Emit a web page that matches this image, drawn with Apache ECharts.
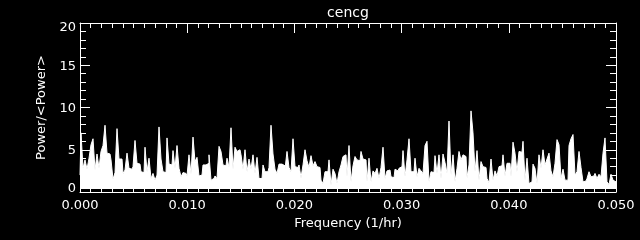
<!DOCTYPE html>
<html>
<head>
<meta charset="utf-8">
<script src="https://cdn.jsdelivr.net/npm/echarts@6/dist/echarts.min.js"></script>
<style>
  html, body { margin: 0; padding: 0; background: #000; }
  #chart { width: 640px; height: 240px; }
</style>
</head>
<body>
<div id="chart"></div>
<script>
// ---- data ----
const chartTitle = 'cencg';
const xAxisTitle = 'Frequency (1/hr)';
const yAxisTitle = 'Power/<Power>';
const xTicks = [0.000, 0.010, 0.020, 0.030, 0.040, 0.050];
const yTicks = [0, 5, 10, 15, 20];
const freqMax = 0.050;          // last frequency of the spectrum (1/hr)
// normalised power, one value per frequency bin, low to high frequency
const power = [
  2.0, 7.0, 2.8, 3.8, 2.7, 4.0, 5.6, 6.3, 2.6, 4.5,
  2.8, 4.8, 5.5, 7.9, 4.6, 4.5, 3.8, 1.5, 2.3, 7.5,
  3.9, 3.9, 2.2, 2.6, 4.6, 2.8, 2.7, 3.0, 6.1, 3.4,
  3.3, 2.4, 2.3, 5.3, 2.4, 4.0, 1.6, 2.2, 1.4, 2.0,
  7.7, 3.9, 2.4, 2.3, 6.4, 3.3, 3.2, 4.9, 2.8, 5.5,
  2.8, 1.8, 2.3, 2.2, 1.9, 4.4, 2.1, 6.5, 3.6, 4.1,
  1.9, 2.0, 3.2, 3.2, 3.4, 4.4, 1.4, 1.6, 1.9, 1.6,
  5.4, 4.8, 3.2, 3.1, 4.0, 2.9, 7.6, 2.7, 5.3, 4.8,
  5.0, 4.4, 2.7, 5.0, 2.4, 3.9, 2.7, 4.4, 2.2, 4.1,
  1.6, 1.6, 3.2, 2.4, 2.4, 2.9, 7.9, 4.5, 2.7, 2.2,
  3.3, 3.3, 3.1, 2.7, 4.8, 2.9, 2.4, 6.3, 3.0, 2.9,
  3.2, 1.7, 3.2, 5.0, 3.7, 2.9, 4.3, 3.1, 3.6, 3.0,
  2.9, 1.4, 1.0, 2.4, 2.4, 3.8, 0.8, 2.7, 2.2, 1.0,
  2.4, 3.2, 4.2, 4.4, 1.8, 5.5, 1.2, 3.1, 4.2, 3.8,
  3.7, 4.8, 3.9, 3.8, 1.2, 4.0, 1.2, 2.5, 2.2, 2.8,
  1.6, 2.9, 5.3, 1.6, 2.5, 2.6, 1.8, 1.7, 2.7, 2.5,
  2.8, 3.0, 4.9, 1.8, 3.8, 6.3, 2.4, 2.4, 4.0, 1.8,
  2.8, 2.5, 2.2, 5.5, 6.0, 1.2, 2.4, 2.3, 4.3, 2.2,
  4.4, 1.6, 4.5, 3.5, 2.2, 8.4, 2.0, 4.4, 1.2, 2.8,
  4.8, 3.8, 4.4, 4.2, 1.7, 3.2, 9.6, 7.0, 2.4, 4.9,
  1.4, 3.6, 3.0, 2.9, 1.6, 1.1, 3.9, 1.4, 2.5, 1.9,
  3.0, 3.1, 4.4, 1.9, 3.4, 3.4, 1.8, 5.9, 4.6, 2.4,
  4.8, 4.7, 6.0, 1.4, 4.0, 1.0, 1.2, 3.3, 2.8, 1.0,
  4.4, 2.8, 5.0, 3.2, 3.9, 4.6, 2.5, 1.8, 3.4, 6.2,
  5.6, 1.6, 2.7, 1.4, 1.4, 5.5, 6.3, 6.8, 2.0, 2.4,
  4.8, 2.9, 1.2, 1.3, 1.6, 2.4, 1.8, 1.9, 2.2, 1.6,
  2.1, 1.8, 4.6, 6.4, 1.2, 0.9, 2.1, 1.4, 1.2
];

// frequency of each bin: uniform grid from 0 to freqMax
const binWidth = freqMax / (power.length - 1);
const seriesData = power.map((p, i) => [i * binWidth, p]);

const FONT = 'DejaVu Sans';
const WHITE = '#ffffff';

const chart = echarts.init(document.getElementById('chart'), null, { renderer: 'canvas' });

const xBase = {
  type: 'value',
  min: xTicks[0],
  max: xTicks[xTicks.length - 1],
  interval: xTicks[1] - xTicks[0],
  axisLine: { show: true, onZero: false, lineStyle: { color: WHITE, width: 1 } },
  axisTick: { show: true, inside: true, length: 10, lineStyle: { color: WHITE } },
  minorTick: { show: true, splitNumber: 10, length: 5, lineStyle: { color: WHITE } },
  splitLine: { show: false },
  minorSplitLine: { show: false }
};
const yBase = {
  type: 'value',
  min: yTicks[0],
  max: yTicks[yTicks.length - 1],
  interval: yTicks[1] - yTicks[0],
  axisLine: { show: true, onZero: false, lineStyle: { color: WHITE, width: 1 } },
  axisTick: { show: true, inside: true, length: 10, lineStyle: { color: WHITE } },
  minorTick: { show: true, splitNumber: 5, length: 6, lineStyle: { color: WHITE } },
  splitLine: { show: false },
  minorSplitLine: { show: false }
};

const yLabelStyle = { color: WHITE, fontFamily: FONT, fontSize: 13 };

chart.setOption({
  backgroundColor: '#000000',
  animation: false,
  title: {
    text: chartTitle,
    left: 348,
    textAlign: 'center',
    top: 6,
    padding: 0,
    textStyle: { color: WHITE, fontFamily: FONT, fontSize: 14, fontWeight: 'normal' }
  },
  grid: { left: 80, right: 24, top: 23, bottom: 48, containLabel: false },
  xAxis: [
    Object.assign({}, xBase, {
      position: 'bottom',
      name: xAxisTitle,
      nameLocation: 'middle',
      nameGap: 22,
      nameTextStyle: { color: WHITE, fontFamily: FONT, fontSize: 13 },
      axisLabel: {
        show: true, color: WHITE, fontFamily: FONT, fontSize: 13, margin: 7,
        formatter: v => v.toFixed(3)
      }
    }),
    Object.assign({}, xBase, { position: 'top', axisLabel: { show: false } })
  ],
  yAxis: [
    Object.assign({}, yBase, {
      position: 'left',
      name: yAxisTitle,
      nameLocation: 'middle',
      nameGap: 30,
      nameTextStyle: { color: WHITE, fontFamily: FONT, fontSize: 13 },
      axisLabel: {
        show: true, margin: 4, color: WHITE, fontFamily: FONT, fontSize: 13,
        formatter: v => v === yTicks[yTicks.length - 1] ? '{t|' + v + '}' : (v === yTicks[0] ? '{b|' + v + '}' : '{m|' + v + '}'),
        rich: {
          t: Object.assign({ padding: [10, 0, 0, 0] }, yLabelStyle),
          b: Object.assign({ padding: [0, 0, 6, 0] }, yLabelStyle),
          m: Object.assign({ padding: [2, 0, 0, 0] }, yLabelStyle)
        }
      }
    }),
    Object.assign({}, yBase, { position: 'right', axisLabel: { show: false } })
  ],
  series: [{
    type: 'line',
    step: 'middle',
    xAxisIndex: 0,
    yAxisIndex: 0,
    data: seriesData,
    showSymbol: false,
    symbol: 'none',
    clip: true,
    lineStyle: { color: WHITE, width: 1 },
    areaStyle: { color: WHITE, opacity: 1, origin: 0.35 }
  }]
});
</script>
</body>
</html>
